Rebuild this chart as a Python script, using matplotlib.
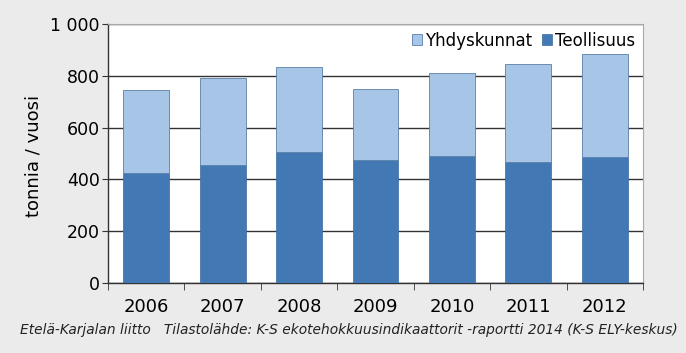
import matplotlib.pyplot as plt
import numpy as np

years = ["2006", "2007", "2008", "2009", "2010", "2011", "2012"]
teollisuus = [425, 457, 505, 475, 490, 467, 485]
totals = [745, 790, 833, 748, 810, 845, 883]
yhdyskunnat = [t - b for t, b in zip(totals, teollisuus)]
y_ticks = [0, 200, 400, 600, 800, 1000]
y_labels = ["0", "200", "400", "600", "800", "1 000"]

dark = "#4279b5"
light = "#a7c6e7"

fig = plt.figure(figsize=(6.86, 3.53), dpi=100)
fig.patch.set_facecolor("#ebebeb")
ax = fig.add_axes([108 / 686, 1 - 283 / 353, 535 / 686, 259 / 353])
ax.set_facecolor("white")

x = np.arange(len(years))
ax.bar(x, teollisuus, width=0.6, color=dark, edgecolor="#3a6a9e", linewidth=0.5,
       label="Teollisuus", zorder=3)
ax.bar(x, yhdyskunnat, bottom=teollisuus, width=0.6, color=light, edgecolor="#5a7fa8",
       linewidth=0.6, label="Yhdyskunnat", zorder=3)

ax.set_ylim(0, 1000)
ax.set_xlim(-0.5, len(years) - 0.5)
ax.set_yticks(y_ticks)
ax.set_yticklabels(y_labels, fontsize=12.5)
ax.set_xticks(x)
ax.set_xticklabels(years, fontsize=13)
ax.set_xticks(np.arange(len(years) + 1) - 0.5, minor=True)
ax.tick_params(axis="x", which="major", length=0, pad=11)
ax.tick_params(axis="x", which="minor", length=5, direction="out", color="#333333")
ax.tick_params(axis="y", length=4.5, direction="out", color="#333333", pad=1.5)
ax.yaxis.grid(True, color="#333333", linewidth=1, zorder=0)
ax.set_axisbelow(True)

for side in ["top", "right"]:
    ax.spines[side].set_color("#aaaaaa")
    ax.spines[side].set_linewidth(0.8)
for side in ["left", "bottom"]:
    ax.spines[side].set_color("#333333")
    ax.spines[side].set_linewidth(1)

ax.set_ylabel("tonnia / vuosi", fontsize=13)
ax.yaxis.set_label_coords(-(108 - 42) / 535, 0.49)

handles, labels = ax.get_legend_handles_labels()
ax.legend(handles[::-1], labels[::-1], loc="upper right", ncol=2, frameon=False,
          fontsize=12, handlelength=0.6, handleheight=0.6, handletextpad=0.2,
          columnspacing=0.6, borderaxespad=0.25, borderpad=0.2)

fig.text(0.508, 1 - 330 / 353, "Etelä-Karjalan liitto   Tilastolähde: K-S ekotehokkuusindikaattorit -raportti 2014 (K-S ELY-keskus)",
         ha="center", va="center", fontsize=9.9, style="italic", color="#222222")

fig.savefig("out.png", dpi=100, facecolor=fig.get_facecolor())
